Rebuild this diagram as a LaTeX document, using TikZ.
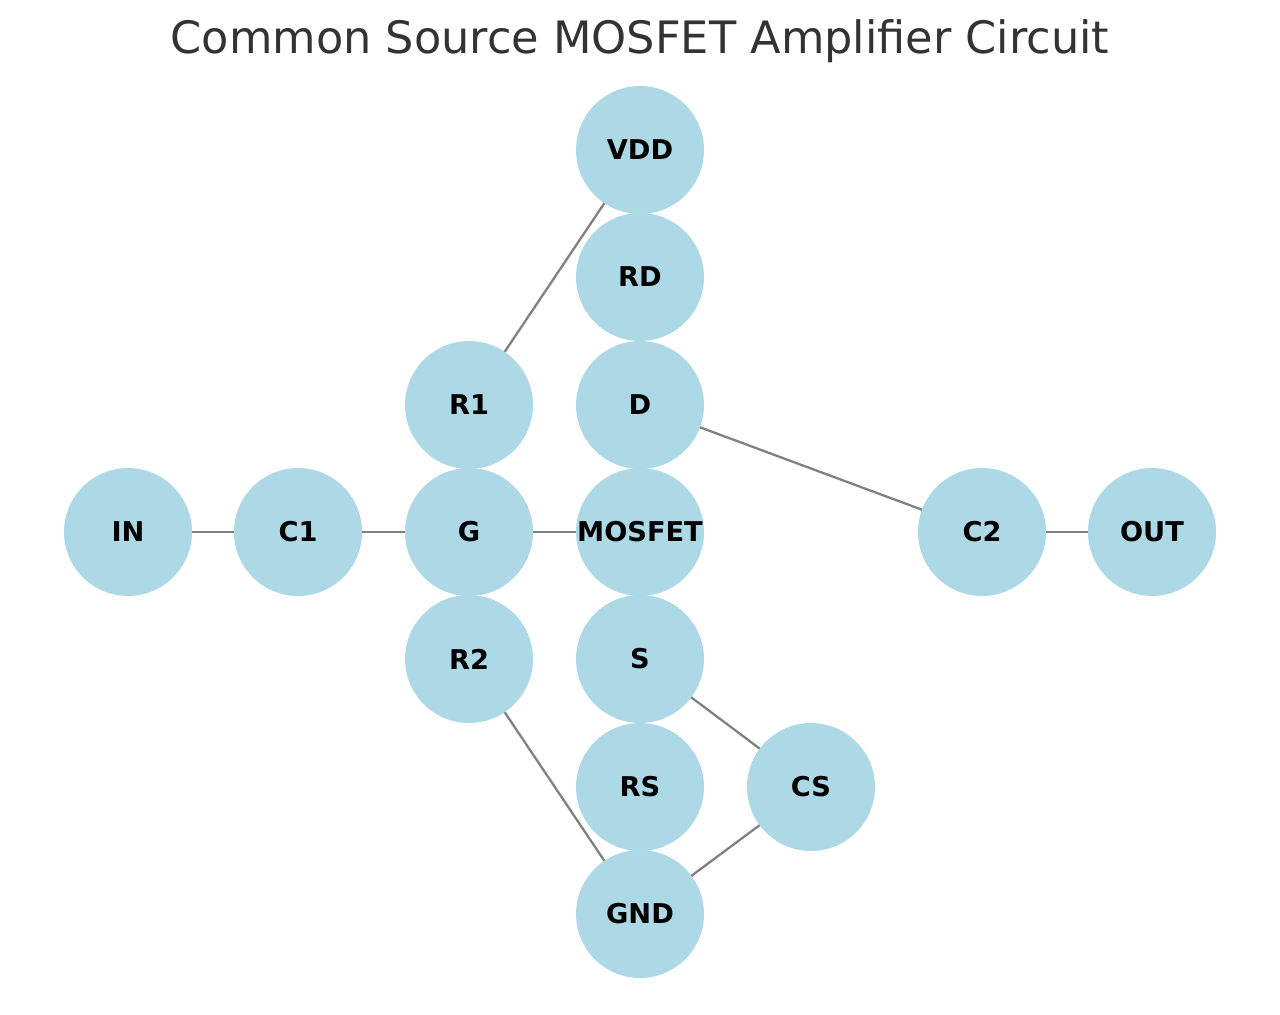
\documentclass[tikz,border=0pt]{standalone}
\usepackage{fontspec}
\setmainfont{DejaVu Sans}
\definecolor{nodeblue}{RGB}{173,216,230}
\definecolor{edgegray}{RGB}{128,128,128}
\definecolor{titlegray}{RGB}{51,51,51}
\begin{document}
\begin{tikzpicture}[x=0.02cm,y=-0.02cm,
  vert/.style={circle,fill=nodeblue,draw=none,minimum size=2.56cm,inner sep=0pt,
    font=\fontsize{15.5pt}{18pt}\selectfont\bfseries,text=black},
  wire/.style={draw=edgegray,line width=1.3pt}]
\useasboundingbox (0,0) rectangle (1280,1014);
\node[text=titlegray,font=\fontsize{25.4pt}{30pt}\selectfont] (title) at (640,41) {Common Source MOSFET Amplifier Circuit};
\coordinate (pVDD) at (640,150);
\coordinate (pRD) at (640,277);
\coordinate (pD) at (640,405);
\coordinate (pM) at (640,532);
\coordinate (pS) at (640,659);
\coordinate (pRS) at (640,787);
\coordinate (pGND) at (640,914);
\coordinate (pR1) at (469,405);
\coordinate (pG) at (469,532);
\coordinate (pR2) at (469,659);
\coordinate (pIN) at (128,532);
\coordinate (pC1) at (298,532);
\coordinate (pC2) at (982,532);
\coordinate (pOUT) at (1152,532);
\coordinate (pCS) at (811,787);
\draw[wire] (pVDD) -- (pRD);
\draw[wire] (pRD) -- (pD);
\draw[wire] (pD) -- (pM);
\draw[wire] (pM) -- (pG);
\draw[wire] (pM) -- (pS);
\draw[wire] (pS) -- (pRS);
\draw[wire] (pRS) -- (pGND);
\draw[wire] (pS) -- (pCS);
\draw[wire] (pCS) -- (pGND);
\draw[wire] (pG) -- (pR1);
\draw[wire] (pR1) -- (pVDD);
\draw[wire] (pG) -- (pR2);
\draw[wire] (pR2) -- (pGND);
\draw[wire] (pIN) -- (pC1);
\draw[wire] (pC1) -- (pG);
\draw[wire] (pD) -- (pC2);
\draw[wire] (pC2) -- (pOUT);
\node[vert] (VDD) at (pVDD) {VDD};
\node[vert] (RD) at (pRD) {RD};
\node[vert] (D) at (pD) {D};
\node[vert] (MOSFET) at (pM) {MOSFET};
\node[vert] (S) at (pS) {S};
\node[vert] (RS) at (pRS) {RS};
\node[vert] (GND) at (pGND) {GND};
\node[vert] (R1) at (pR1) {R1};
\node[vert] (G) at (pG) {G};
\node[vert] (R2) at (pR2) {R2};
\node[vert] (IN) at (pIN) {IN};
\node[vert] (C1) at (pC1) {C1};
\node[vert] (C2) at (pC2) {C2};
\node[vert] (OUT) at (pOUT) {OUT};
\node[vert] (CS) at (pCS) {CS};
\end{tikzpicture}
\end{document}
